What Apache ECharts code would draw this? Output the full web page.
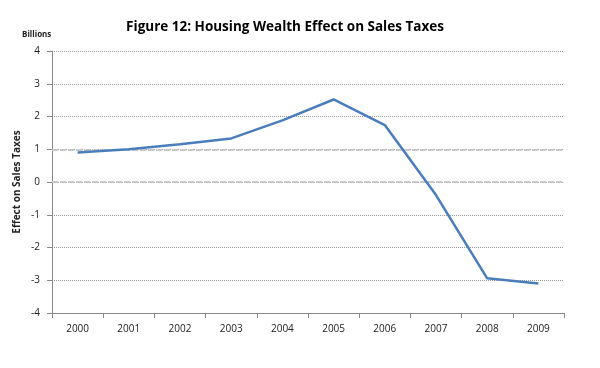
<!DOCTYPE html>
<html>
<head>
<meta charset="utf-8">
<script src="https://cdn.jsdelivr.net/npm/echarts@6/dist/echarts.min.js"></script>
<style>
html,body{margin:0;padding:0;background:#fff;}
#chart{width:600px;height:368px;}
</style>
</head>
<body>
<div id="chart"></div>
<script>
var years = ['2000','2001','2002','2003','2004','2005','2006','2007','2008','2009'];
var effect = [0.9, 1.0, 1.15, 1.33, 1.88, 2.52, 1.74, -0.4, -2.94, -3.1];
var highlightLevels = [1, 0];

var chart = echarts.init(document.getElementById('chart'));
var font = '"Open Sans", "DejaVu Sans", sans-serif';
chart.setOption({
  animation: false,
  backgroundColor: '#fff',
  title: {
    text: 'Figure 12: Housing Wealth Effect on Sales Taxes',
    left: 280, top: 15, textAlign: 'center',
    textStyle: { fontFamily: font, fontSize: 13.5, fontWeight: 'bold', color: '#000' }
  },
  graphic: [{
    type: 'text', left: 22, top: 31,
    style: { text: 'Billions', fontFamily: font, fontSize: 8, fontWeight: 'bold', fill: '#222' }
  }],
  grid: { left: 52, right: 36, top: 51, bottom: 55, containLabel: false, outerBoundsMode: 'none' },
  xAxis: {
    type: 'category', data: years, boundaryGap: true,
    axisLine: { onZero: false, lineStyle: { color: '#888', width: 1 } },
    axisTick: { show: true, alignWithLabel: false, length: 5, lineStyle: { color: '#888' } },
    axisLabel: { fontFamily: font, fontSize: 10, color: '#222', margin: 11 }
  },
  yAxis: {
    type: 'value', min: -4, max: 4, interval: 1,
    name: 'Effect on Sales Taxes', nameLocation: 'middle', nameGap: 30,
    nameMoveOverlap: false,
    nameTextStyle: { fontFamily: font, fontSize: 10, fontWeight: 'bold', color: '#222' },
    axisLine: { show: true, lineStyle: { color: '#888', width: 1 } },
    axisTick: { show: true, length: 5, lineStyle: { color: '#888' } },
    axisLabel: { fontFamily: font, fontSize: 10, color: '#222', margin: 12 },
    splitLine: { show: true, lineStyle: { color: '#999', type: [1, 1], width: 1 } }
  },
  series: [{
    type: 'line', data: effect, symbol: 'none', smooth: false,
    lineStyle: { color: '#4a7ebb', width: 2.5 },
    markLine: {
      silent: true, symbol: 'none', label: { show: false },
      lineStyle: { color: '#c8c8c8', type: [6, 2], width: 2 },
      data: highlightLevels.map(function (v) { return { yAxis: v }; })
    },
    z: 5
  }]
});
</script>
</body>
</html>
